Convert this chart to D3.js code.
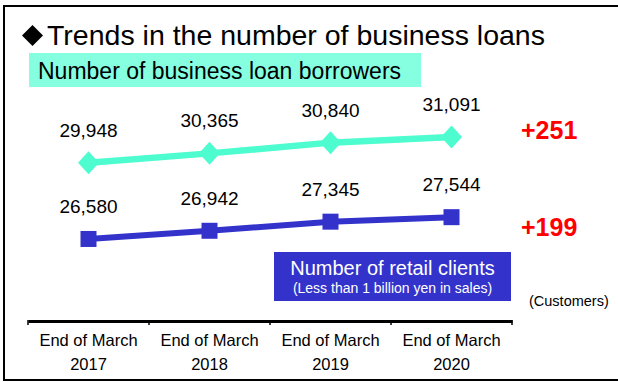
<!DOCTYPE html>
<html>
<head>
<meta charset="utf-8">
<script src="https://cdn.jsdelivr.net/npm/d3@7"></script>
<style>
  html, body { margin: 0; padding: 0; background: #fff; }
  svg { display: block; font-family: Arial, "Liberation Sans", Helvetica, sans-serif; }
</style>
</head>
<body>
<svg id="chart" width="618" height="382"></svg>
<script>
// Fiscal year-end categories
const categories = ["2017", "2018", "2019", "2020"];
const categoryPrefix = "End of March";

// Business loan borrowers (customers)
const borrowers = [29948, 30365, 30840, 31091];
// Retail clients with less than 1 billion yen in sales (customers)
const retailClients = [26580, 26942, 27345, 27544];

// Year-over-year change for the latest year
const borrowerChange = "+251";
const retailChange = "+199";

const titleText = "Trends in the number of business loans";
const borrowerLabel = "Number of business loan borrowers";
const retailLabel = "Number of retail clients";
const retailSubLabel = "(Less than 1 billion yen in sales)";
const unitLabel = "(Customers)";

const tealLine = "#4dfdd0";
const tealBox = "#85ffdf";
const blue = "#3333cc";
const red = "#ff0000";

const svg = d3.select("#chart");
const fmt = d3.format(",");

// Outer frame
svg.append("rect")
  .attr("x", 4).attr("y", 6)
  .attr("width", 640).attr("height", 374)
  .attr("fill", "none").attr("stroke", "#000").attr("stroke-width", 2);

// Title bullet and title
svg.append("path")
  .attr("d", "M32.5,25L43,35.5L32.5,46L22,35.5Z")
  .attr("fill", "#000");
svg.append("text")
  .attr("x", 47).attr("y", 45)
  .attr("font-size", 28.5)
  .attr("fill", "#000")
  .text(titleText);

// Borrower series label box
svg.append("rect")
  .attr("x", 29).attr("y", 53).attr("width", 392).attr("height", 34)
  .attr("fill", tealBox);
svg.append("text")
  .attr("x", 38).attr("y", 79)
  .attr("font-size", 23)
  .attr("fill", "#000")
  .text(borrowerLabel);

// Scales
const x = d3.scaleBand().domain(categories).range([28, 512]);
const y = d3.scaleLinear().domain([25000, 32000]).range([274.7, 116.4]);
const cx = d => x(d) + x.bandwidth() / 2;

// Category axis
const axis = d3.axisBottom(x).tickSize(0).tickFormat("");
const axisG = svg.append("g").attr("transform", "translate(0,321)").call(axis);
axisG.select(".domain").attr("stroke", "#000").attr("stroke-width", 3);
axisG.selectAll(".tick").remove();

// Boundary tick marks between categories
const boundaries = categories.map(c => x(c)).concat([x(categories[categories.length - 1]) + x.bandwidth()]);
svg.append("g").selectAll("line")
  .data(boundaries)
  .join("line")
  .attr("x1", d => d).attr("x2", d => d)
  .attr("y1", 320).attr("y2", 325)
  .attr("stroke", "#000").attr("stroke-width", 1.5);

// Category labels
const catLabels = svg.append("g").selectAll("text")
  .data(categories)
  .join("text")
  .attr("text-anchor", "middle")
  .attr("font-size", 16.5)
  .attr("fill", "#000");
catLabels.append("tspan").attr("x", cx).attr("y", 346).text(categoryPrefix);
catLabels.append("tspan").attr("x", cx).attr("y", 370).text(d => d);

// Lines
const line = d3.line().x((d, i) => cx(categories[i])).y(d => y(d));

svg.append("path")
  .datum(borrowers)
  .attr("d", line)
  .attr("fill", "none").attr("stroke", tealLine).attr("stroke-width", 6.5);

svg.append("path")
  .datum(retailClients)
  .attr("d", line)
  .attr("fill", "none").attr("stroke", blue).attr("stroke-width", 6);

// Diamond markers
svg.append("g").selectAll("path")
  .data(borrowers)
  .join("path")
  .attr("transform", (d, i) => `translate(${cx(categories[i])},${y(d)})`)
  .attr("d", "M0,-11.5L10.5,0L0,11.5L-10.5,0Z")
  .attr("fill", tealLine);

// Square markers
svg.append("g").selectAll("rect")
  .data(retailClients)
  .join("rect")
  .attr("x", (d, i) => cx(categories[i]) - 8)
  .attr("y", d => y(d) - 8)
  .attr("width", 16).attr("height", 16)
  .attr("fill", blue);

// Value labels
function valueLabels(values) {
  svg.append("g").selectAll("text")
    .data(values)
    .join("text")
    .attr("x", (d, i) => cx(categories[i]))
    .attr("y", d => y(d) - 26)
    .attr("text-anchor", "middle")
    .attr("font-size", 19)
    .attr("fill", "#000")
    .text(d => fmt(d));
}
valueLabels(borrowers);
valueLabels(retailClients);

// Change annotations
svg.append("text")
  .attr("x", 521).attr("y", 139)
  .attr("font-size", 25).attr("font-weight", "bold")
  .attr("fill", red)
  .text(borrowerChange);
svg.append("text")
  .attr("x", 521).attr("y", 236)
  .attr("font-size", 25).attr("font-weight", "bold")
  .attr("fill", red)
  .text(retailChange);

// Retail series label box
svg.append("rect")
  .attr("x", 274).attr("y", 252).attr("width", 237).attr("height", 49)
  .attr("fill", blue);
svg.append("text")
  .attr("x", 392.5).attr("y", 275)
  .attr("text-anchor", "middle")
  .attr("font-size", 20)
  .attr("fill", "#fff")
  .text(retailLabel);
svg.append("text")
  .attr("x", 392.5).attr("y", 293)
  .attr("text-anchor", "middle")
  .attr("font-size", 14)
  .attr("fill", "#fff")
  .text(retailSubLabel);

// Unit label
svg.append("text")
  .attr("x", 529).attr("y", 306)
  .attr("font-size", 14.5)
  .attr("fill", "#000")
  .text(unitLabel);
</script>
</body>
</html>
